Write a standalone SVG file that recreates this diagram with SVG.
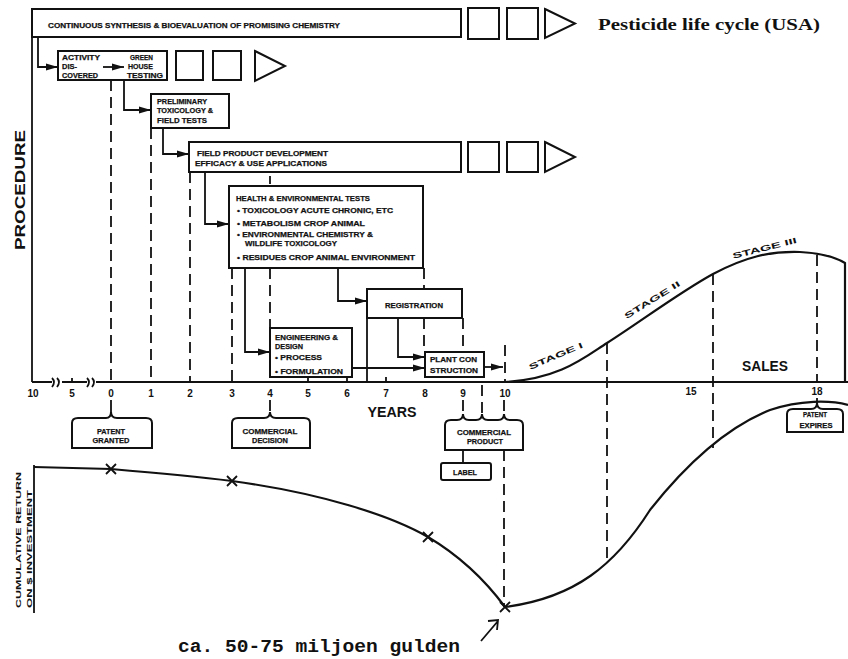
<svg xmlns="http://www.w3.org/2000/svg" width="848" height="659" viewBox="0 0 848 659">
<style>
.bx{fill:#fff;stroke:#111;stroke-width:2}
.ln{fill:none;stroke:#111;stroke-width:1.8}
.ds{fill:none;stroke:#111;stroke-width:1.8;stroke-dasharray:11 6}
.cv{fill:none;stroke:#111;stroke-width:2.2}
.t{font-family:"Liberation Sans",Arial,sans-serif;font-weight:bold;fill:#111;font-size:8px}
.s{font-family:"Liberation Sans",Arial,sans-serif;font-weight:bold;fill:#111;font-size:7.5px;stroke:#111;stroke-width:0.25}
.y{font-family:"Liberation Sans",Arial,sans-serif;font-weight:bold;fill:#111;font-size:10px;text-anchor:middle}
.big{font-family:"Liberation Sans",Arial,sans-serif;font-weight:bold;fill:#111;font-size:14px}
</style>
<defs>
<marker id="ah" markerUnits="userSpaceOnUse" markerWidth="12" markerHeight="8" refX="12" refY="4" orient="auto">
<path d="M0,0.5 L12,4 L0,7.5 Z" fill="#111"/>
</marker>
</defs>
<rect width="848" height="659" fill="#fff"/>

<text x="598" y="30" font-family="'Liberation Serif','Times New Roman',serif" font-weight="bold" font-size="17" textLength="222" lengthAdjust="spacingAndGlyphs" fill="#111">Pesticide life cycle (USA)</text>

<text class="big" transform="translate(25,250) rotate(-90)" textLength="120" lengthAdjust="spacingAndGlyphs" font-size="15">PROCEDURE</text>
<text class="t" font-size="11" transform="translate(21,608) rotate(-90)" textLength="136" lengthAdjust="spacingAndGlyphs">CUMULATIVE RETURN</text>
<text class="t" font-size="11" transform="translate(32,608) rotate(-90)" textLength="118" lengthAdjust="spacingAndGlyphs">ON $ INVESTMENT</text>

<g id="axes">
<path class="ln" d="M32,9 L32,382"/>
<path class="ln" d="M32,382 L52,382 M62,382 L87,382 M96,382 L848,382"/>
<path class="ln" d="M52,378 Q56,382 52,387 M57,378 Q61,382 57,387 M87,378 Q91,382 87,387 M92,378 Q96,382 92,387"/>
<path class="ln" d="M72,382 L72,378 M308,382 L308,377 M347,382 L347,377 M386,382 L386,377"/>
<path class="ln" d="M34,465 L34,613"/>
</g>

<g id="years">
<text class="y" x="33" y="397">10</text>
<text class="y" x="72" y="397">5</text>
<text class="y" x="111" y="397">0</text>
<text class="y" x="151" y="397">1</text>
<text class="y" x="190" y="397">2</text>
<text class="y" x="232" y="397">3</text>
<text class="y" x="270" y="397">4</text>
<text class="y" x="308" y="397">5</text>
<text class="y" x="347" y="397">6</text>
<text class="y" x="386" y="397">7</text>
<text class="y" x="425" y="397">8</text>
<text class="y" x="463" y="397">9</text>
<text class="y" x="505" y="397">10</text>
<text class="y" x="691" y="395">15</text>
<text class="y" x="817" y="395">18</text>
<text class="big" x="392" y="417" text-anchor="middle" textLength="49" lengthAdjust="spacingAndGlyphs">YEARS</text>
</g>

<g id="bar">
<rect class="bx" x="32" y="9" width="429" height="28"/>
<text class="s" x="48" y="28" textLength="292" lengthAdjust="spacingAndGlyphs">CONTINUOUS SYNTHESIS &amp; BIOEVALUATION OF PROMISING CHEMISTRY</text>
<rect class="bx" x="468" y="8" width="31" height="31"/>
<rect class="bx" x="507" y="8" width="31" height="31"/>
<path class="bx" d="M545,9 L575,23.5 L545,38 Z"/>
</g>

<g id="activity">
<rect class="bx" x="58" y="51" width="109" height="29"/>
<text class="s" x="62" y="60" textLength="38" lengthAdjust="spacingAndGlyphs">ACTIVITY</text>
<text class="s" x="62" y="69" textLength="15" lengthAdjust="spacingAndGlyphs">DIS-</text>
<text class="s" x="62" y="78" textLength="36" lengthAdjust="spacingAndGlyphs">COVERED</text>
<text class="s" x="130" y="60" textLength="23" lengthAdjust="spacingAndGlyphs">GREEN</text>
<text class="s" x="128" y="69" textLength="25" lengthAdjust="spacingAndGlyphs">HOUSE</text>
<text class="s" x="127" y="78" textLength="36" lengthAdjust="spacingAndGlyphs">TESTING</text>
<rect class="bx" x="176" y="51" width="27" height="29"/>
<rect class="bx" x="213" y="51" width="28" height="29"/>
<path class="bx" d="M255,51 L285,66 L255,81 Z"/>
</g>

<g id="preliminary">
<rect class="bx" x="151" y="94" width="78" height="34"/>
<text class="s" x="157" y="104" textLength="50" lengthAdjust="spacingAndGlyphs">PRELIMINARY</text>
<text class="s" x="157" y="113" textLength="56" lengthAdjust="spacingAndGlyphs">TOXICOLOGY &amp;</text>
<text class="s" x="157" y="123" textLength="50" lengthAdjust="spacingAndGlyphs">FIELD TESTS</text>
</g>

<g id="field">
<rect class="bx" x="189" y="142" width="272" height="30"/>
<text class="s" x="197" y="156" textLength="131" lengthAdjust="spacingAndGlyphs">FIELD PRODUCT DEVELOPMENT</text>
<text class="s" x="195" y="166" textLength="132" lengthAdjust="spacingAndGlyphs">EFFICACY &amp; USE APPLICATIONS</text>
<rect class="bx" x="468" y="142" width="31" height="30"/>
<rect class="bx" x="507" y="142" width="31" height="30"/>
<path class="bx" d="M545,142 L575,157 L545,172 Z"/>
</g>

<g id="health">
<rect class="bx" x="229" y="186" width="194" height="82"/>
<text class="s" x="236" y="201" textLength="134" lengthAdjust="spacingAndGlyphs">HEALTH &amp; ENVIRONMENTAL TESTS</text>
<text class="s" x="237" y="213" textLength="156" lengthAdjust="spacingAndGlyphs">• TOXICOLOGY  ACUTE  CHRONIC, ETC</text>
<text class="s" x="237" y="226" textLength="128" lengthAdjust="spacingAndGlyphs">• METABOLISM  CROP  ANIMAL</text>
<text class="s" x="237" y="237" textLength="136" lengthAdjust="spacingAndGlyphs">• ENVIRONMENTAL CHEMISTRY &amp;</text>
<text class="s" x="245" y="246" textLength="92" lengthAdjust="spacingAndGlyphs">WILDLIFE TOXICOLOGY</text>
<text class="s" x="237" y="260" textLength="178" lengthAdjust="spacingAndGlyphs">• RESIDUES  CROP  ANIMAL  ENVIRONMENT</text>
</g>

<g id="engineering">
<rect class="bx" x="270" y="328" width="82" height="49"/>
<text class="s" x="275" y="340" textLength="63" lengthAdjust="spacingAndGlyphs">ENGINEERING &amp;</text>
<text class="s" x="275" y="349" textLength="28" lengthAdjust="spacingAndGlyphs">DESIGN</text>
<text class="s" x="275" y="360" textLength="47" lengthAdjust="spacingAndGlyphs">• PROCESS</text>
<text class="s" x="275" y="374" textLength="68" lengthAdjust="spacingAndGlyphs">• FORMULATION</text>
</g>

<g id="registration">
<rect class="bx" x="367" y="289" width="95" height="29"/>
<text class="s" x="385" y="308" textLength="58" lengthAdjust="spacingAndGlyphs">REGISTRATION</text>
</g>

<g id="plant">
<rect class="bx" x="425" y="352" width="59" height="25"/>
<text class="s" x="430" y="362" textLength="47" lengthAdjust="spacingAndGlyphs">PLANT CON</text>
<text class="s" x="430" y="373" textLength="48" lengthAdjust="spacingAndGlyphs">STRUCTION</text>
</g>

<g id="patent-granted">
<path class="bx" d="M72,448 L72,423 Q72,418 78,418 L106,418 Q111,418 111,412 Q111,418 117,418 L146,418 Q152,418 152,423 L152,448 Z"/>
<text class="s" x="111" y="434" text-anchor="middle" textLength="28" lengthAdjust="spacingAndGlyphs">PATENT</text>
<text class="s" x="111" y="443" text-anchor="middle" textLength="37" lengthAdjust="spacingAndGlyphs">GRANTED</text>
</g>

<g id="commercial-decision">
<path class="bx" d="M232,448 L232,423 Q232,418 238,418 L264,418 Q270,418 270,412 Q270,418 276,418 L304,418 Q310,418 310,423 L310,448 Z"/>
<text class="s" x="270" y="434" text-anchor="middle" textLength="55" lengthAdjust="spacingAndGlyphs">COMMERCIAL</text>
<text class="s" x="270" y="443" text-anchor="middle" textLength="36" lengthAdjust="spacingAndGlyphs">DECISION</text>
</g>

<g id="commercial-product">
<path class="bx" d="M445,450 L445,425 Q445,420 451,420 L457,420 Q463,420 463,414 Q463,420 469,420 L476,420 Q482,420 482,414 Q482,420 488,420 L498,420 Q504,420 504,414 Q504,420 510,420 L517,420 Q523,420 523,425 L523,450 Z"/>
<text class="s" x="484" y="435" text-anchor="middle" textLength="54" lengthAdjust="spacingAndGlyphs">COMMERCIAL</text>
<text class="s" x="485" y="444" text-anchor="middle" textLength="36" lengthAdjust="spacingAndGlyphs">PRODUCT</text>
</g>

<g id="label">
<rect class="bx" x="441" y="463" width="50" height="17" rx="2"/>
<text class="s" x="465" y="475" text-anchor="middle" textLength="24" lengthAdjust="spacingAndGlyphs">LABEL</text>
</g>

<g id="patent-expires">
<path class="bx" d="M787,432 L787,414 Q787,409 793,409 L811,409 Q817,409 817,403 Q817,409 823,409 L837,409 Q843,409 843,414 L843,432 Z"/>
<text class="s" x="815" y="417" text-anchor="middle" textLength="24" lengthAdjust="spacingAndGlyphs">PATENT</text>
<text class="s" x="816" y="428" text-anchor="middle" textLength="33" lengthAdjust="spacingAndGlyphs">EXPIRES</text>
</g>

<g id="sales">
<path class="cv" d="M505,382 C560,379 585,357 607,343 C640,322 680,292 713,274 C745,257 770,251 800,252 C820,253 835,257 845,263 L845,382"/>
<text class="big" x="765" y="371" text-anchor="middle" textLength="46" lengthAdjust="spacingAndGlyphs">SALES</text>
<text class="t" font-size="13" text-anchor="middle" transform="translate(555,354) rotate(-23)" y="5" textLength="58" lengthAdjust="spacingAndGlyphs">STAGE I</text>
<text class="t" font-size="13" text-anchor="middle" transform="translate(651,298) rotate(-32)" y="5" textLength="64" lengthAdjust="spacingAndGlyphs">STAGE II</text>
<text class="t" font-size="13" text-anchor="middle" transform="translate(764,246) rotate(-14)" y="5" textLength="66" lengthAdjust="spacingAndGlyphs">STAGE III</text>
</g>

<g id="return">
<path class="cv" d="M34,467 L111,469 C170,474 200,477 232,481 C320,493 390,515 428,537 C460,556 485,580 505,607 C575,598 615,565 650,510 C680,472 720,430 770,410 C800,400 830,400 848,405"/>
<path class="ln" stroke-width="2.2" d="M106,464 L116,474 M116,464 L106,474 M227,476 L237,486 M237,476 L227,486 M423,532 L433,542 M433,532 L423,542 M500,602 L510,612 M510,602 L500,612"/>
</g>

<g id="annotation">
<text x="178" y="652" font-family="'Liberation Mono','Courier New',monospace" font-weight="bold" font-size="18" textLength="282" lengthAdjust="spacingAndGlyphs" fill="#111">ca. 50-75 miljoen gulden</text>
<path class="ln" d="M481,641 L498,621 M488,621 L498,620 L497,630"/>
</g>

<g id="connectors">
<path class="ln" d="M38,37 L38,67 L58,67" marker-end="url(#ah)"/>
<path class="ln" d="M103,67 L124,67" marker-end="url(#ah)"/>
<path class="ln" d="M124,80 L124,110 L151,110" marker-end="url(#ah)"/>
<path class="ln" d="M163,128 L163,154 L189,154" marker-end="url(#ah)"/>
<path class="ln" d="M205,172 L205,224 L229,224" marker-end="url(#ah)"/>
<path class="ln" d="M245,268 L245,352 L270,352" marker-end="url(#ah)"/>
<path class="ln" d="M338,268 L338,301 L367,301" marker-end="url(#ah)"/>
<path class="ln" d="M398,318 L398,357 L425,357" marker-end="url(#ah)"/>
<path class="ln" d="M352,368 L425,368" marker-end="url(#ah)"/>
<path class="ln" d="M484,367 L503,367" marker-end="url(#ah)"/>
<path class="ln" d="M367,318 L367,382"/>
<path class="ln" d="M111,400 L111,412 M817,398 L817,403 M463,450 L463,463"/>
<path class="ds" d="M111,80 L111,382 M151,128 L151,382 M190,172 L190,382 M232,268 L232,382 M270,176 L270,184 M270,268 L270,328 M424,268 L424,289 M424,318 L424,352 M463,318 L463,352 M505,345 L505,382"/>
<path class="ds" d="M607,343 L607,560 M713,274 L713,448 M817,255 L817,382"/>
<path class="ds" d="M270,400 L270,412 M463,400 L463,414 M482,385 L482,414 M504,400 L504,414 M504,450 L504,607"/>
</g>
</svg>
